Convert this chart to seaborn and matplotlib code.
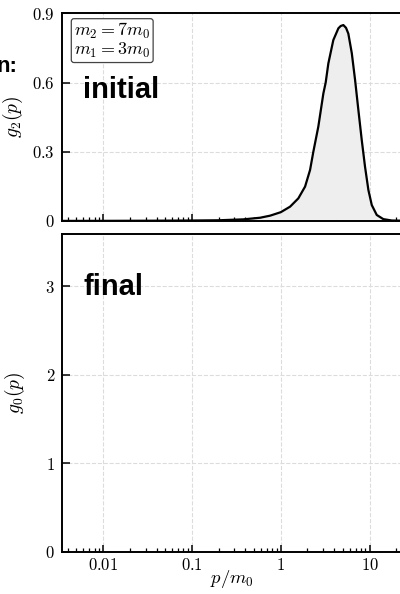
import numpy as np
import pandas as pd
import seaborn as sns
import matplotlib
matplotlib.use("Agg")
import matplotlib.pyplot as plt
from matplotlib.ticker import LogLocator, NullFormatter

# values (initial momentum distribution)
p_over_m0 = [0.00344, 0.01, 0.0316, 0.1, 0.2, 0.38, 0.585, 0.759, 1.0,
             1.274, 1.578, 1.879, 2.138, 2.328, 2.649, 3.02, 3.206, 3.436,
             3.908, 4.457, 4.732, 5.07, 5.433, 5.768, 6.31, 6.871, 7.482,
             8.166, 8.892, 9.705, 10.59, 12.05, 14.29, 17.78, 31.6, 100.0]
g2_initial = [0.0003, 0.0005, 0.001, 0.002, 0.003, 0.007, 0.014, 0.023, 0.038,
              0.062, 0.098, 0.149, 0.221, 0.300, 0.409, 0.553, 0.600, 0.683,
              0.784, 0.835, 0.845, 0.849, 0.837, 0.812, 0.727, 0.611, 0.481,
              0.351, 0.235, 0.134, 0.069, 0.026, 0.008, 0.002, 0.0005, 0.0]

x_ticks = [0.01, 0.1, 1, 10]
x_tick_labels = ["0.01", "0.1", "1", "10"]
y_ticks_top = [0, 0.3, 0.6, 0.9]
y_labels_top = ["0", "0.3", "0.6", "0.9"]
y_ticks_bottom = [0, 1, 2, 3]
y_labels_bottom = ["0", "1", "2", "3"]

df = pd.DataFrame({"p": p_over_m0, "g2": g2_initial})

sns.set_theme(style="ticks")
plt.rcParams.update({
    "mathtext.fontset": "cm",
    "font.family": ["Liberation Sans", "DejaVu Sans"],
    "axes.linewidth": 1.4,
    "axes.edgecolor": "black",
    "axes.labelcolor": "black",
    "text.color": "black",
    "xtick.color": "black",
    "ytick.color": "black",
    "xtick.direction": "in",
    "ytick.direction": "in",
})

fig = plt.figure(figsize=(4, 5.94), dpi=100)
ax_top = fig.add_axes([0.155, 0.628, 0.8475, 0.3496])
ax_bot = fig.add_axes([0.155, 0.0712, 0.8475, 0.5344])

ax_top.fill_between(df["p"], df["g2"], color="#eeeeee", lw=0)
sns.lineplot(data=df, x="p", y="g2", ax=ax_top, color="black", lw=1.6)

for ax in (ax_top, ax_bot):
    ax.set_xscale("log")
    ax.set_xlim(0.00344, 22.6)
    ax.xaxis.set_major_locator(LogLocator(base=10, numticks=10))
    ax.xaxis.set_minor_locator(LogLocator(base=10, subs=np.arange(2, 10), numticks=20))
    ax.xaxis.set_minor_formatter(NullFormatter())
    ax.grid(True, which="major", ls="--", color="#dcdcdc", lw=0.8)
    ax.tick_params(which="major", length=5, width=1.1, labelsize=12)
    ax.tick_params(which="minor", length=3, width=0.9)
    ax.tick_params(axis="y", which="major", length=6, pad=5)
    ax.set_axisbelow(True)

ax_top.set_xticks(x_ticks)
ax_top.set_xticklabels([])
ax_top.set_ylim(0, 0.9)
ax_top.set_yticks(y_ticks_top)
ax_top.set_yticklabels(["$%s$" % s for s in y_labels_top])
ax_top.set_xlabel("")
ax_top.set_ylabel("$g_2(p)$", fontsize=14, labelpad=5)

ax_bot.set_xticks(x_ticks)
ax_bot.set_xticklabels(["$%s$" % s for s in x_tick_labels])
ax_bot.set_ylim(0, 3.59)
ax_bot.set_yticks(y_ticks_bottom)
ax_bot.set_yticklabels(["$%s$" % s for s in y_labels_bottom])
ax_bot.set_xlabel("$p/m_0$", fontsize=13.5, labelpad=-3)
ax_bot.set_ylabel("$g_0(p)$", fontsize=14, labelpad=13)

fig.text(0.045, 0.879, "n:", ha="right", va="baseline",
         fontsize=16, fontweight="bold")
fig.text(0.2075, 0.835, "initial", ha="left", va="baseline",
         fontsize=21, fontweight="bold")
fig.text(0.2075, 0.5034, "final", ha="left", va="baseline",
         fontsize=21, fontweight="bold")
fig.text(0.185, 0.964, "$m_2 = 7m_0$\n$m_1 = 3m_0$", ha="left", va="top",
         fontsize=13, linespacing=0.95,
         bbox=dict(boxstyle="round,pad=0.15", fc="white", ec="#444444", lw=0.9))

fig.savefig("out.png", dpi=100)
